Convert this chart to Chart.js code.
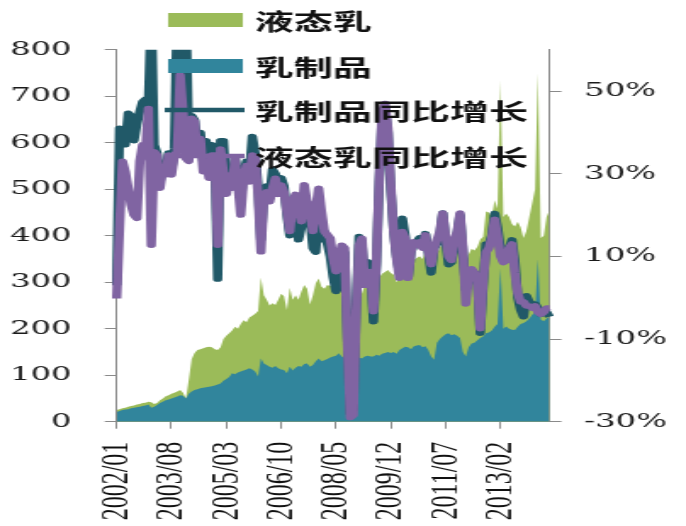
<!DOCTYPE html>
<html>
<head>
<meta charset="utf-8">
<script src="https://cdn.jsdelivr.net/npm/chart.js@4.4.1/dist/chart.umd.min.js"></script>
<style>
  html, body { margin: 0; padding: 0; background: #fff; overflow: hidden; }
  /* the reference is stretched sideways, so draw narrow and scale it out */
  #wrap { width: 404px; height: 526px; transform: scaleX(1.698); transform-origin: 0 0; }
</style>
</head>
<body>
<div id="wrap"><canvas id="chart" width="404" height="526"></canvas></div>
<script>
// monthly categories 2002/01 .. 2014/07
const months = [];
for (let y = 2002; y <= 2014; y++) {
	for (let m = 1; m <= 12; m++) months.push(y + "/" + String(m).padStart(2, "0"));
}
months.splice(151);

const xTickLabels = ["2002/01", "2003/08", "2005/03", "2006/10", "2008/05", "2009/12", "2011/07", "2013/02"];
const rightTicks = [-30, -10, 10, 30, 50];

// 液态乳 (green area, left axis)
const liquidMilk = [
	25, 27, 29, 30, 32, 34, 35, 37, 38, 40, 41, 43, 42, 38, 40, 46, 50, 55, 57, 60,
	62, 65, 68, 62, 50, 90, 135, 148, 154, 156, 158, 160, 161, 160, 156, 154, 160, 178, 185, 190,
	196, 204, 200, 210, 218, 214, 224, 228, 232, 238, 310, 272, 262, 250, 255, 251, 262, 275, 270, 240,
	288, 262, 272, 262, 280, 294, 286, 252, 272, 298, 308, 290, 286, 294, 292, 298, 310, 322, 290, 262,
	246, 238, 226, 250, 262, 276, 294, 312, 310, 302, 315, 310, 318, 322, 326, 320, 316, 300, 312, 322,
	336, 345, 340, 348, 352, 356, 350, 366, 375, 330, 320, 360, 375, 383, 386, 378, 398, 400, 394, 398,
	360, 340, 360, 372, 368, 376, 392, 398, 452, 450, 440, 476, 458, 735, 440, 448, 440, 425, 420, 430,
	418, 395, 410, 440, 470, 500, 750, 395, 400, 440, 455
];

// 乳制品 (teal area, left axis)
const dairy = [
	21, 23, 25, 26, 27, 29, 30, 31, 32, 34, 35, 37, 30, 32, 36, 40, 43, 46, 48, 50,
	52, 54, 57, 56, 50, 60, 65, 68, 70, 72, 73, 74, 75, 76, 78, 80, 82, 88, 92, 96,
	104, 102, 106, 108, 110, 112, 115, 112, 108, 97, 136, 125, 122, 118, 116, 120, 115, 112, 111, 104,
	118, 110, 116, 120, 118, 124, 125, 118, 122, 130, 136, 130, 132, 135, 138, 140, 142, 147, 140, 136,
	132, 132, 133, 136, 138, 136, 140, 142, 140, 140, 144, 142, 146, 148, 150, 148, 150, 146, 154, 158,
	161, 160, 156, 162, 164, 165, 160, 162, 154, 140, 133, 170, 178, 183, 188, 190, 186, 188, 185, 180,
	150, 140, 160, 168, 170, 175, 180, 183, 190, 192, 196, 204, 210, 330, 200, 205, 200, 198, 197, 204,
	210, 212, 216, 222, 230, 236, 350, 220, 216, 222, 226
];

// 乳制品同比增长 (%, right axis)
const dairyYoY = [
	3, 41, 39, 37, 44.6, 44, 38, 42, 45, 47.4, 48, 47, 70, 37, 35, 28, 32, 31, 35, 31,
	36, 70, 52, 48, 70, 36, 44, 43, 36, 40, 33, 38, 31, 37, 36, 4.5, 38, 38, 27, 31,
	27, 34, 29, 24, 30, 33, 30, 39, 35, 27, 14, 25, 27, 24, 31, 30, 27, 29, 27, 20,
	15, 22, 23, 14, 17, 24, 20, 19, 12, 11, 21, 14, 16, 13, 10, 5, 1.5, 3, 9, 11,
	-10, -28, -27, -2, 14.8, 13, 4, 8.7, 6, -5.8, 8, 28, 44, 46, 40, 26, 16, 10, 6, 19.2,
	15, 5, 11, 13, 13.5, 14.5, 12.5, 15.5, 11, 6, 12, 13, 15, 20.5, 14, 8, 8.5, 12, 15.5, 20,
	11, 2, 4, 6.5, 6, 5, -8.6, 3, 13, 13, 15, 20.4, 17, 12, 9, 9, 12, 14, 9, 0,
	-3, -4.6, 0.5, -1, -1.5, -1.5, -2.5, -4, -3, -3.5, -4.6
];

// 液态乳同比增长 (%, right axis)
const liquidYoY = [
	-0.2, 16.8, 33, 30.5, 26.5, 22.4, 20, 19.2, 33, 37, 35.3, 45.8, 12.7, 35.3, 34.5, 26.5, 31.3, 29.7, 34.5, 29.7,
	34.5, 35.3, 53.9, 45, 33.7, 33, 43.4, 42.6, 34.5, 38.5, 30.5, 33, 28.9, 34.5, 34.5, 12.7, 36, 30.5, 25, 29.7,
	26.5, 33.7, 27.3, 20, 28.9, 32, 28, 34.5, 33.7, 25, 11.1, 24, 25.6, 23.2, 26.5, 28.9, 25, 27.3, 25.6, 20.8,
	16, 23.2, 25, 22.4, 18.4, 27.3, 23.2, 20.8, 16, 21.6, 26.5, 20.8, 16, 15.2, 14.4, 9.5, 6.3, 9.5, 12.7, 12,
	-11.5, -29, -28.4, -3.4, 12.7, 14.4, 3, 4.7, 6.3, -3.4, 8.7, 28.9, 45, 47, 41, 27.3, 16, 9.5, 4.7, 16,
	14.4, 4.7, 11.1, 13.5, 12.7, 13.5, 12, 15.2, 11.1, 8, 12, 14, 16, 20.5, 15, 10, 9, 14, 16, 20.5,
	12, -1.5, 6, 7, 6, 4, -7.5, 4, 11, 12, 14.5, 19, 15, 10, 8.5, 9, 12, 13, 6, 1,
	-1, -1, -2, -2, -2.5, -2, -3.5, -4, -3.5, -2.5, -2.5
];

const axisGray = "#8a8a8a";
const yFont = { family: "'DejaVu Serif', serif", size: 19 };

// legend sits over the plot, so draw it by hand
const overlayLegend = {
	id: "overlayLegend",
	afterDraw(chart) {
		const ctx = chart.ctx;
		const rows = [20, 66, 110, 156];
		[3, 2, 1, 0].forEach((di, k) => {
			const ds = chart.data.datasets[di];
			const y = rows[k];
			ctx.save();
			if (ds.fill) {
				ctx.fillStyle = ds.backgroundColor;
				ctx.fillRect(99, y - 7, 44, 14);
			} else {
				ctx.strokeStyle = ds.borderColor;
				ctx.lineWidth = 4.5;
				ctx.beginPath();
				ctx.moveTo(97, y);
				ctx.lineTo(144, y);
				ctx.stroke();
			}
			ctx.fillStyle = "#111";
			ctx.font = "bold 23px 'Noto Sans CJK SC'";
			ctx.textBaseline = "middle";
			ctx.fillText(ds.label, 150, y + 1);
			ctx.restore();
		});
	}
};

new Chart(document.getElementById("chart"), {
	type: "line",
	data: {
		labels: months,
		datasets: [
			{
				label: "液态乳同比增长",
				data: liquidYoY,
				yAxisID: "yr",
				borderColor: "#8064A2",
				borderWidth: 5.5,
				pointRadius: 0,
				fill: false
			},
			{
				label: "乳制品同比增长",
				data: dairyYoY,
				yAxisID: "yr",
				borderColor: "#215968",
				borderWidth: 5.5,
				pointRadius: 0,
				fill: false
			},
			{
				label: "乳制品",
				data: dairy,
				yAxisID: "y",
				backgroundColor: "#31859C",
				borderWidth: 0,
				pointRadius: 0,
				fill: "origin"
			},
			{
				label: "液态乳",
				data: liquidMilk,
				yAxisID: "y",
				backgroundColor: "#9BBB59",
				borderWidth: 0,
				pointRadius: 0,
				fill: "origin"
			}
		]
	},
	options: {
		responsive: false,
		animation: false,
		devicePixelRatio: 1,
		layout: { padding: { top: 49.7, left: 0, right: 0, bottom: 0 } },
		elements: { line: { tension: 0, borderJoinStyle: "round" } },
		plugins: {
			legend: { display: false },
			tooltip: { enabled: false }
		},
		scales: {
			x: {
				offset: false,
				grid: { drawOnChartArea: false, tickLength: 7, color: axisGray },
				border: { color: axisGray },
				ticks: {
					autoSkip: false,
					minRotation: 90,
					maxRotation: 90,
					padding: 13,
					color: "#111",
					font: { family: "'Liberation Serif', 'Times New Roman', serif", size: 24 }
				},
				afterBuildTicks: (s) => {
					s.ticks = s.ticks.filter(t => xTickLabels.includes(months[t.value]));
				},
				afterFit: (s) => { s.height = 104.3; }
			},
			y: {
				position: "left",
				min: 0,
				max: 800,
				grid: { drawOnChartArea: false, tickLength: 7, color: axisGray },
				border: { color: axisGray },
				ticks: { stepSize: 100, padding: 19.5, color: "#1a1a1a", font: yFont },
				afterFit: (s) => { s.width = 68.7; }
			},
			yr: {
				position: "right",
				min: -30,
				max: 60,
				grid: { drawOnChartArea: false, tickLength: 7, color: axisGray },
				border: { color: axisGray },
				ticks: {
					padding: 13.5,
					color: "#1a1a1a",
					font: yFont,
					callback: (v) => v + "%"
				},
				afterBuildTicks: (s) => {
					s.ticks = rightTicks.map(v => ({ value: v }));
				},
				afterFit: (s) => { s.width = 80.4; }
			}
		}
	},
	plugins: [overlayLegend]
});
</script>
</body>
</html>
